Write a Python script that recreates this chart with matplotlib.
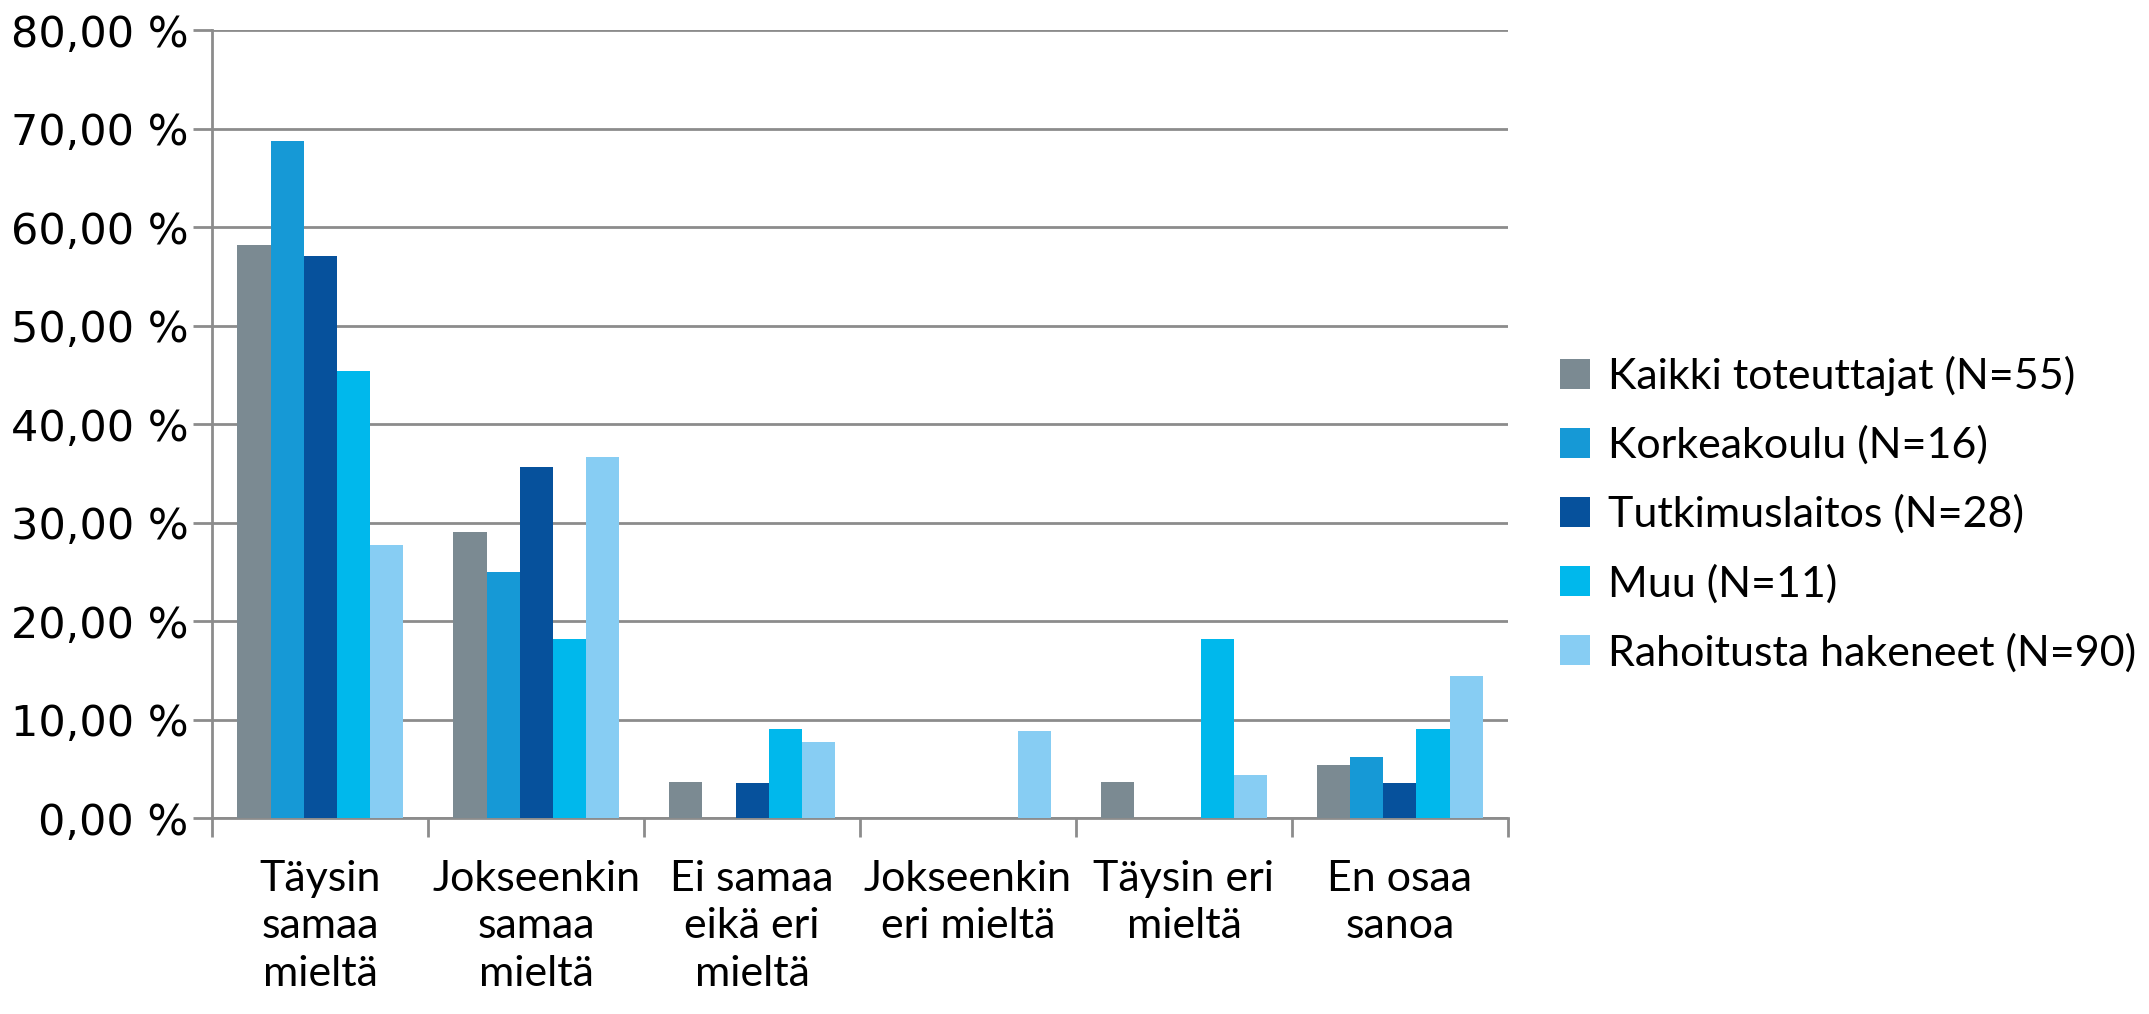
import numpy as np
import matplotlib
matplotlib.use("Agg")
import matplotlib.pyplot as plt

categories = ["Täysin\nsamaa\nmieltä", "Jokseenkin\nsamaa\nmieltä", "Ei samaa\neikä eri\nmieltä",
              "Jokseenkin\neri mieltä", "Täysin eri\nmieltä", "En osaa\nsanoa"]
series_names = ["Kaikki toteuttajat (N=55)", "Korkeakoulu (N=16)", "Tutkimuslaitos (N=28)",
                "Muu (N=11)", "Rahoitusta hakeneet (N=90)"]
kaikki = [58.18, 29.09, 3.64, 0.0, 3.64, 5.45]
korkeakoulu = [68.75, 25.00, 0.0, 0.0, 0.0, 6.25]
tutkimuslaitos = [57.14, 35.71, 3.57, 0.0, 0.0, 3.57]
muu = [45.45, 18.18, 9.09, 0.0, 18.18, 9.09]
rahoitus = [27.78, 36.67, 7.78, 8.89, 4.44, 14.44]
colors = ["#7B8A92", "#1699D6", "#06519C", "#00B8EC", "#87CDF3"]

series = [kaikki, korkeakoulu, tutkimuslaitos, muu, rahoitus]

fig = plt.figure(figsize=(21.49, 10.14), dpi=100)
ax = fig.add_axes([0.0987, 0.193, 0.603, 0.777])

x = np.arange(len(categories))
w = 0.153
for i, (vals, name, c) in enumerate(zip(series, series_names, colors)):
    ax.bar(x + (i - 2) * w, vals, width=w, color=c, label=name, zorder=3)

gridc = "#8C8C8C"
ax.set_xlim(-0.5, len(categories) - 0.5)
ax.set_ylim(0, 80)
ax.set_yticks(np.arange(0, 81, 10))
ax.set_yticklabels([f"{v:.2f} %".replace(".", ",") for v in np.arange(0, 81, 10)],
                   fontsize=31, family="DejaVu Sans")
ax.yaxis.grid(True, color=gridc, linewidth=2, zorder=0)
ax.tick_params(axis="y", length=14, width=2, color=gridc, pad=3)

ax.set_xticks(x)
ax.set_xticklabels(categories, fontsize=31, family="Lato", linespacing=1.3, va="top")
ax.tick_params(axis="x", which="major", length=0, pad=30)
ax.set_xticks(np.arange(-0.5, len(categories), 1), minor=True)
ax.tick_params(axis="x", which="minor", length=14, width=2, color=gridc)

for s in ["top", "right"]:
    ax.spines[s].set_visible(False)
for s in ["left", "bottom"]:
    ax.spines[s].set_color(gridc)
    ax.spines[s].set_linewidth(2)

leg = fig.legend(loc="center left", bbox_to_anchor=(0.708, 0.493), frameon=False,
                 prop={"family": "Lato", "size": 31}, handlelength=0.7, handleheight=0.7,
                 handletextpad=0.4, labelspacing=0.69)

fig.savefig("out.png", dpi=100)
